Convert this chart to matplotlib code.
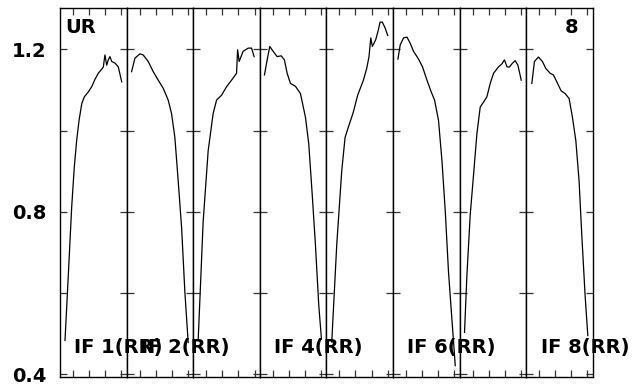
import matplotlib
matplotlib.use('Agg')
import matplotlib.pyplot as plt
from matplotlib.ticker import FixedLocator, NullFormatter

plt.rcParams['font.family'] = ['DejaVu Sans']

# bandpass amplitude per IF, channel vs amplitude
if1_ch = [4.8, 8.0, 11.2, 13.7, 16.0, 18.3, 20.9, 23.4, 27.2, 30.5, 33.6, 36.8, 41.6, 43.2, 44.9, 46.4, 48.0, 49.7, 52.9, 56.0, 59.3]
if1_amp = [0.483, 0.644, 0.810, 0.909, 0.975, 1.025, 1.066, 1.083, 1.095, 1.108, 1.126, 1.141, 1.156, 1.186, 1.161, 1.174, 1.182, 1.170, 1.166, 1.157, 1.120]

if2_ch = [4.8, 8.0, 12.8, 16.0, 20.8, 25.6, 30.4, 35.2, 40.0, 43.2, 46.4, 49.6, 52.9, 56.0, 59.2]
if2_amp = [1.145, 1.178, 1.189, 1.186, 1.170, 1.145, 1.124, 1.104, 1.075, 1.042, 0.983, 0.876, 0.760, 0.603, 0.478]

if3_ch = [4.8, 9.6, 14.4, 19.2, 22.5, 27.3, 32.1, 36.9, 41.7, 42.7, 44.2, 48.0, 52.9, 56.1, 58.6]
if3_amp = [0.483, 0.776, 0.950, 1.042, 1.075, 1.087, 1.108, 1.124, 1.141, 1.199, 1.170, 1.195, 1.203, 1.203, 1.182]

if4_ch = [4.5, 7.1, 9.6, 12.9, 16.7, 20.6, 23.7, 26.3, 29.5, 34.3, 39.1, 43.9, 47.1, 50.4, 53.5, 56.7, 59.3]
if4_amp = [1.137, 1.174, 1.207, 1.195, 1.182, 1.184, 1.174, 1.141, 1.116, 1.109, 1.091, 1.033, 0.967, 0.843, 0.719, 0.570, 0.486]

if5_ch = [5.2, 10.0, 14.8, 18.0, 21.1, 25.9, 30.1, 35.6, 38.8, 41.0, 42.7, 44.2, 47.5, 50.0, 51.6, 53.8, 56.4, 59.0]
if5_amp = [0.479, 0.719, 0.901, 0.983, 1.008, 1.045, 1.087, 1.124, 1.153, 1.182, 1.228, 1.207, 1.224, 1.248, 1.267, 1.267, 1.253, 1.234]

if6_ch = [4.8, 7.0, 10.2, 13.5, 16.6, 19.8, 24.6, 28.4, 32.7, 36.8, 40.0, 43.8, 47.1, 50.3, 53.4, 59.9]
if6_amp = [1.176, 1.211, 1.228, 1.230, 1.215, 1.195, 1.176, 1.157, 1.124, 1.095, 1.075, 1.025, 0.926, 0.801, 0.652, 0.421]

if7_ch = [4.8, 7.1, 10.3, 13.5, 16.7, 19.9, 23.1, 26.3, 29.5, 32.7, 37.5, 40.7, 43.2, 45.6, 47.8, 50.9, 53.5, 56.1, 59.3]
if7_amp = [0.503, 0.644, 0.793, 0.892, 0.992, 1.058, 1.070, 1.083, 1.116, 1.141, 1.157, 1.164, 1.174, 1.157, 1.156, 1.166, 1.172, 1.161, 1.124]

if8_ch = [5.5, 8.0, 11.8, 15.7, 18.9, 23.1, 26.2, 29.5, 33.6, 37.5, 41.3, 44.5, 47.8, 50.9, 53.5, 56.7, 59.3]
if8_amp = [1.116, 1.170, 1.181, 1.170, 1.153, 1.141, 1.137, 1.120, 1.098, 1.091, 1.079, 1.033, 0.975, 0.876, 0.743, 0.594, 0.495]

panels = [(if1_ch, if1_amp), (if2_ch, if2_amp), (if3_ch, if3_amp), (if4_ch, if4_amp),
          (if5_ch, if5_amp), (if6_ch, if6_amp), (if7_ch, if7_amp), (if8_ch, if8_amp)]
if_labels = ['IF 1(RR)', 'IF 2(RR)', None, 'IF 4(RR)', None, 'IF 6(RR)', None, 'IF 8(RR)']

y_major = [0.4, 0.8, 1.2]
y_minor = [0.6, 1.0]
x_minor = [12.5, 28, 43.5, 59]

W, H = 634, 387
fig = plt.figure(figsize=(W / 100, H / 100), dpi=100)

left, right, top, bottom = 60, 592.7, 7.7, 377
pw = (right - left) / 8

for i, (ch, amp) in enumerate(panels):
    x0 = (left + i * pw) / W
    ax = fig.add_axes([x0, 1 - bottom / H, pw / W, (bottom - top) / H])
    ax.plot(ch, amp, color='black', lw=0.9)
    ax.set_xlim(0, 64)
    ax.set_ylim(0.393, 1.3025)

    for s in ax.spines.values():
        s.set_linewidth(1.0)
        s.set_color('black')

    ax.xaxis.set_major_locator(FixedLocator([]))
    ax.xaxis.set_minor_locator(FixedLocator(x_minor))
    ax.yaxis.set_major_locator(FixedLocator(y_major))
    ax.yaxis.set_minor_locator(FixedLocator(y_minor))
    ax.yaxis.set_minor_formatter(NullFormatter())
    ax.tick_params(which='both', direction='in', top=True, bottom=True, left=True, right=True,
                   length=5, width=0.9, color='#333333')
    ax.tick_params(axis='x', which='both', labelbottom=False)
    if i == 0:
        ax.tick_params(axis='y', which='major', labelleft=True, pad=9.5, labelsize=14)
        for lab in ax.get_yticklabels():
            lab.set_fontweight('bold')
    else:
        ax.tick_params(axis='y', which='both', labelleft=False)

    # panel texts go on the figure so the next panel does not cover them
    if i == 0:
        fig.text((left + 5) / W, 1 - 27.5 / H, 'UR', fontsize=14, fontweight='bold',
                 ha='left', va='center')
    if i == 7:
        fig.text((left + i * pw + 45) / W, 1 - 27.5 / H, '8', fontsize=14, fontweight='bold',
                 ha='center', va='center')
    if if_labels[i]:
        fig.text((left + i * pw + 14.5) / W, 1 - 348 / H, if_labels[i], fontsize=14,
                 fontweight='bold', ha='left', va='center')

fig.savefig('out.png', dpi=100)
